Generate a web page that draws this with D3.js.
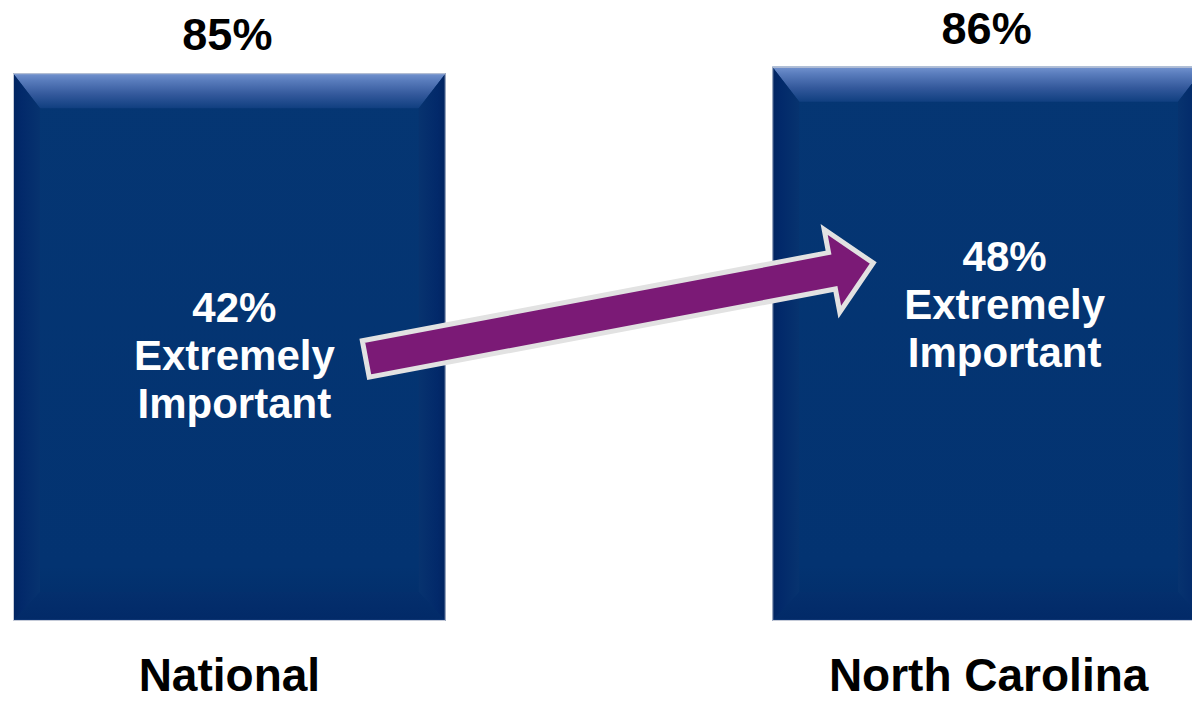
<!DOCTYPE html>
<html>
<head>
<meta charset="utf-8">
<script src="https://cdn.jsdelivr.net/npm/d3@7"></script>
<style>
  html, body { margin: 0; padding: 0; background: #fff; }
  svg { display: block; font-family: "Liberation Sans", Arial, sans-serif; }
</style>
</head>
<body>
<svg id="chart" width="1192" height="701"></svg>
<script>
// data
const categories = ["National", "North Carolina"];
const totals = [85, 86];            // % important (top labels)
const extremely = [42, 48];         // % extremely important (inner labels)
const innerLines = ["Extremely", "Important"];

const W = 1192, H = 701;
const svg = d3.select("#chart");
const defs = svg.append("defs");

// scales
const x = d3.scaleBand()
    .domain(categories)
    .range([13, 1205])
    .paddingInner(0.43)
    .paddingOuter(0);

const baseY = 621;
const y = d3.scaleLinear()
    .domain([0, 100])
    .range([baseY, baseY - 644.5]);

///////////////////////////////////////////////////////////////////////////
// Gradients for the bevelled bars
///////////////////////////////////////////////////////////////////////////

function linGrad(id, x1, y1, x2, y2, stops) {
    let g = defs.append("linearGradient")
        .attr("id", id)
        .attr("x1", x1).attr("y1", y1)
        .attr("x2", x2).attr("y2", y2);
    stops.forEach(function(s) {
        g.append("stop").attr("offset", s[0]).attr("stop-color", s[1]);
    });
}

linGrad("gBody", 0, 0, 0, 1, [[0, "#053673"], [0.9, "#033371"], [1, "#022c68"]]);
linGrad("gTop", 0, 0, 0, 1, [[0, "#7393cf"], [0.2, "#5a7dbd"], [0.6, "#34599c"], [1, "#103f80"]]);
linGrad("gLeft", 0, 0, 1, 0, [[0, "#012460"], [0.3, "#02296a"], [1, "#07336f"]]);
linGrad("gRight", 1, 0, 0, 0, [[0, "#012460"], [0.3, "#02296a"], [1, "#07336f"]]);
linGrad("gBottom", 0, 1, 0, 0, [[0, "#4a6fb0"], [0.06, "#022a68"], [1, "#042f6d"]]);

const bevelSide = 27, bevelTop = 35, bevelBottom = 29;

///////////////////////////////////////////////////////////////////////////
// Bars
///////////////////////////////////////////////////////////////////////////

const bars = svg.append("g").attr("class", "bars")
    .selectAll("g")
    .data(categories)
    .join("g");

bars.each(function(c, i) {
    let g = d3.select(this);
    let x0 = x(c), x1 = x(c) + x.bandwidth();
    let y0 = y(totals[i]), y1 = y(0);
    let pts = function(arr) { return arr.map(function(p) { return p.join(","); }).join(" "); };

    g.append("rect")
        .attr("x", x0).attr("y", y0)
        .attr("width", x1 - x0).attr("height", y1 - y0)
        .attr("fill", "url(#gBody)");

    g.append("polygon")
        .attr("points", pts([[x0, y0], [x1, y0], [x1 - bevelSide, y0 + bevelTop], [x0 + bevelSide, y0 + bevelTop]]))
        .attr("fill", "url(#gTop)");
    g.append("polygon")
        .attr("points", pts([[x0, y0], [x0 + bevelSide, y0 + bevelTop], [x0 + bevelSide, y1 - bevelBottom], [x0, y1]]))
        .attr("fill", "url(#gLeft)");
    g.append("polygon")
        .attr("points", pts([[x1, y0], [x1 - bevelSide, y0 + bevelTop], [x1 - bevelSide, y1 - bevelBottom], [x1, y1]]))
        .attr("fill", "url(#gRight)");
    g.append("polygon")
        .attr("points", pts([[x0, y1], [x0 + bevelSide, y1 - bevelBottom], [x1 - bevelSide, y1 - bevelBottom], [x1, y1]]))
        .attr("fill", "url(#gBottom)");

    g.append("rect")
        .attr("x", x0 + 0.5).attr("y", y0 + 0.5)
        .attr("width", x1 - x0 - 1).attr("height", y1 - y0 - 1)
        .attr("fill", "none")
        .attr("stroke", "#c4cad8")
        .attr("stroke-width", 1);
});

///////////////////////////////////////////////////////////////////////////
// Labels
///////////////////////////////////////////////////////////////////////////

const mid = function(c) { return x(c) + x.bandwidth() / 2; };

// totals above bars
svg.append("g").selectAll("text")
    .data(categories)
    .join("text")
    .attr("x", function(c) { return mid(c) - 2; })
    .attr("y", function(c, i) { return y(totals[i]) - 23; })
    .attr("text-anchor", "middle")
    .attr("font-size", 45)
    .attr("font-weight", "bold")
    .attr("fill", "#000")
    .text(function(c, i) { return totals[i] + "%"; });

// category labels
svg.append("g").selectAll("text")
    .data(categories)
    .join("text")
    .attr("x", mid)
    .attr("y", 691)
    .attr("text-anchor", "middle")
    .attr("font-size", 46)
    .attr("font-weight", "bold")
    .attr("fill", "#000")
    .text(function(c) { return c; });

// inner "extremely important" labels
const innerDx = [5, 16];
const innerY = [322, 271];
const inner = svg.append("g").selectAll("text")
    .data(categories)
    .join("text")
    .attr("text-anchor", "middle")
    .attr("font-size", 42)
    .attr("font-weight", "bold")
    .attr("fill", "#fff");

inner.each(function(c, i) {
    let t = d3.select(this);
    let lines = [extremely[i] + "%"].concat(innerLines);
    lines.forEach(function(l, k) {
        t.append("tspan")
            .attr("x", mid(c) + innerDx[i])
            .attr("y", innerY[i] + k * 48)
            .text(l);
    });
});

///////////////////////////////////////////////////////////////////////////
// Arrow between the two inner labels
///////////////////////////////////////////////////////////////////////////

const tail = [x(categories[0]) + x.bandwidth() - 80, 359];
const tip = [x(categories[1]) + 101, 263];
const dx = tip[0] - tail[0], dy = tip[1] - tail[1];
const len = Math.sqrt(dx * dx + dy * dy);
const ang = Math.atan2(dy, dx) * 180 / Math.PI;
const shaftHalf = 18.5, headHalf = 42, headLen = 42;

const arrowPts = [
    [0, -shaftHalf], [len - headLen, -shaftHalf], [len - headLen, -headHalf],
    [len, 0],
    [len - headLen, headHalf], [len - headLen, shaftHalf], [0, shaftHalf]
];

svg.append("g")
    .attr("transform", "translate(" + tail[0] + "," + tail[1] + ") rotate(" + ang + ")")
    .append("polygon")
    .attr("points", arrowPts.map(function(p) { return p.join(","); }).join(" "))
    .attr("fill", "#7b1a76")
    .attr("stroke", "#e2e2e2")
    .attr("stroke-width", 5)
    .attr("stroke-linejoin", "miter");
</script>
</body>
</html>
